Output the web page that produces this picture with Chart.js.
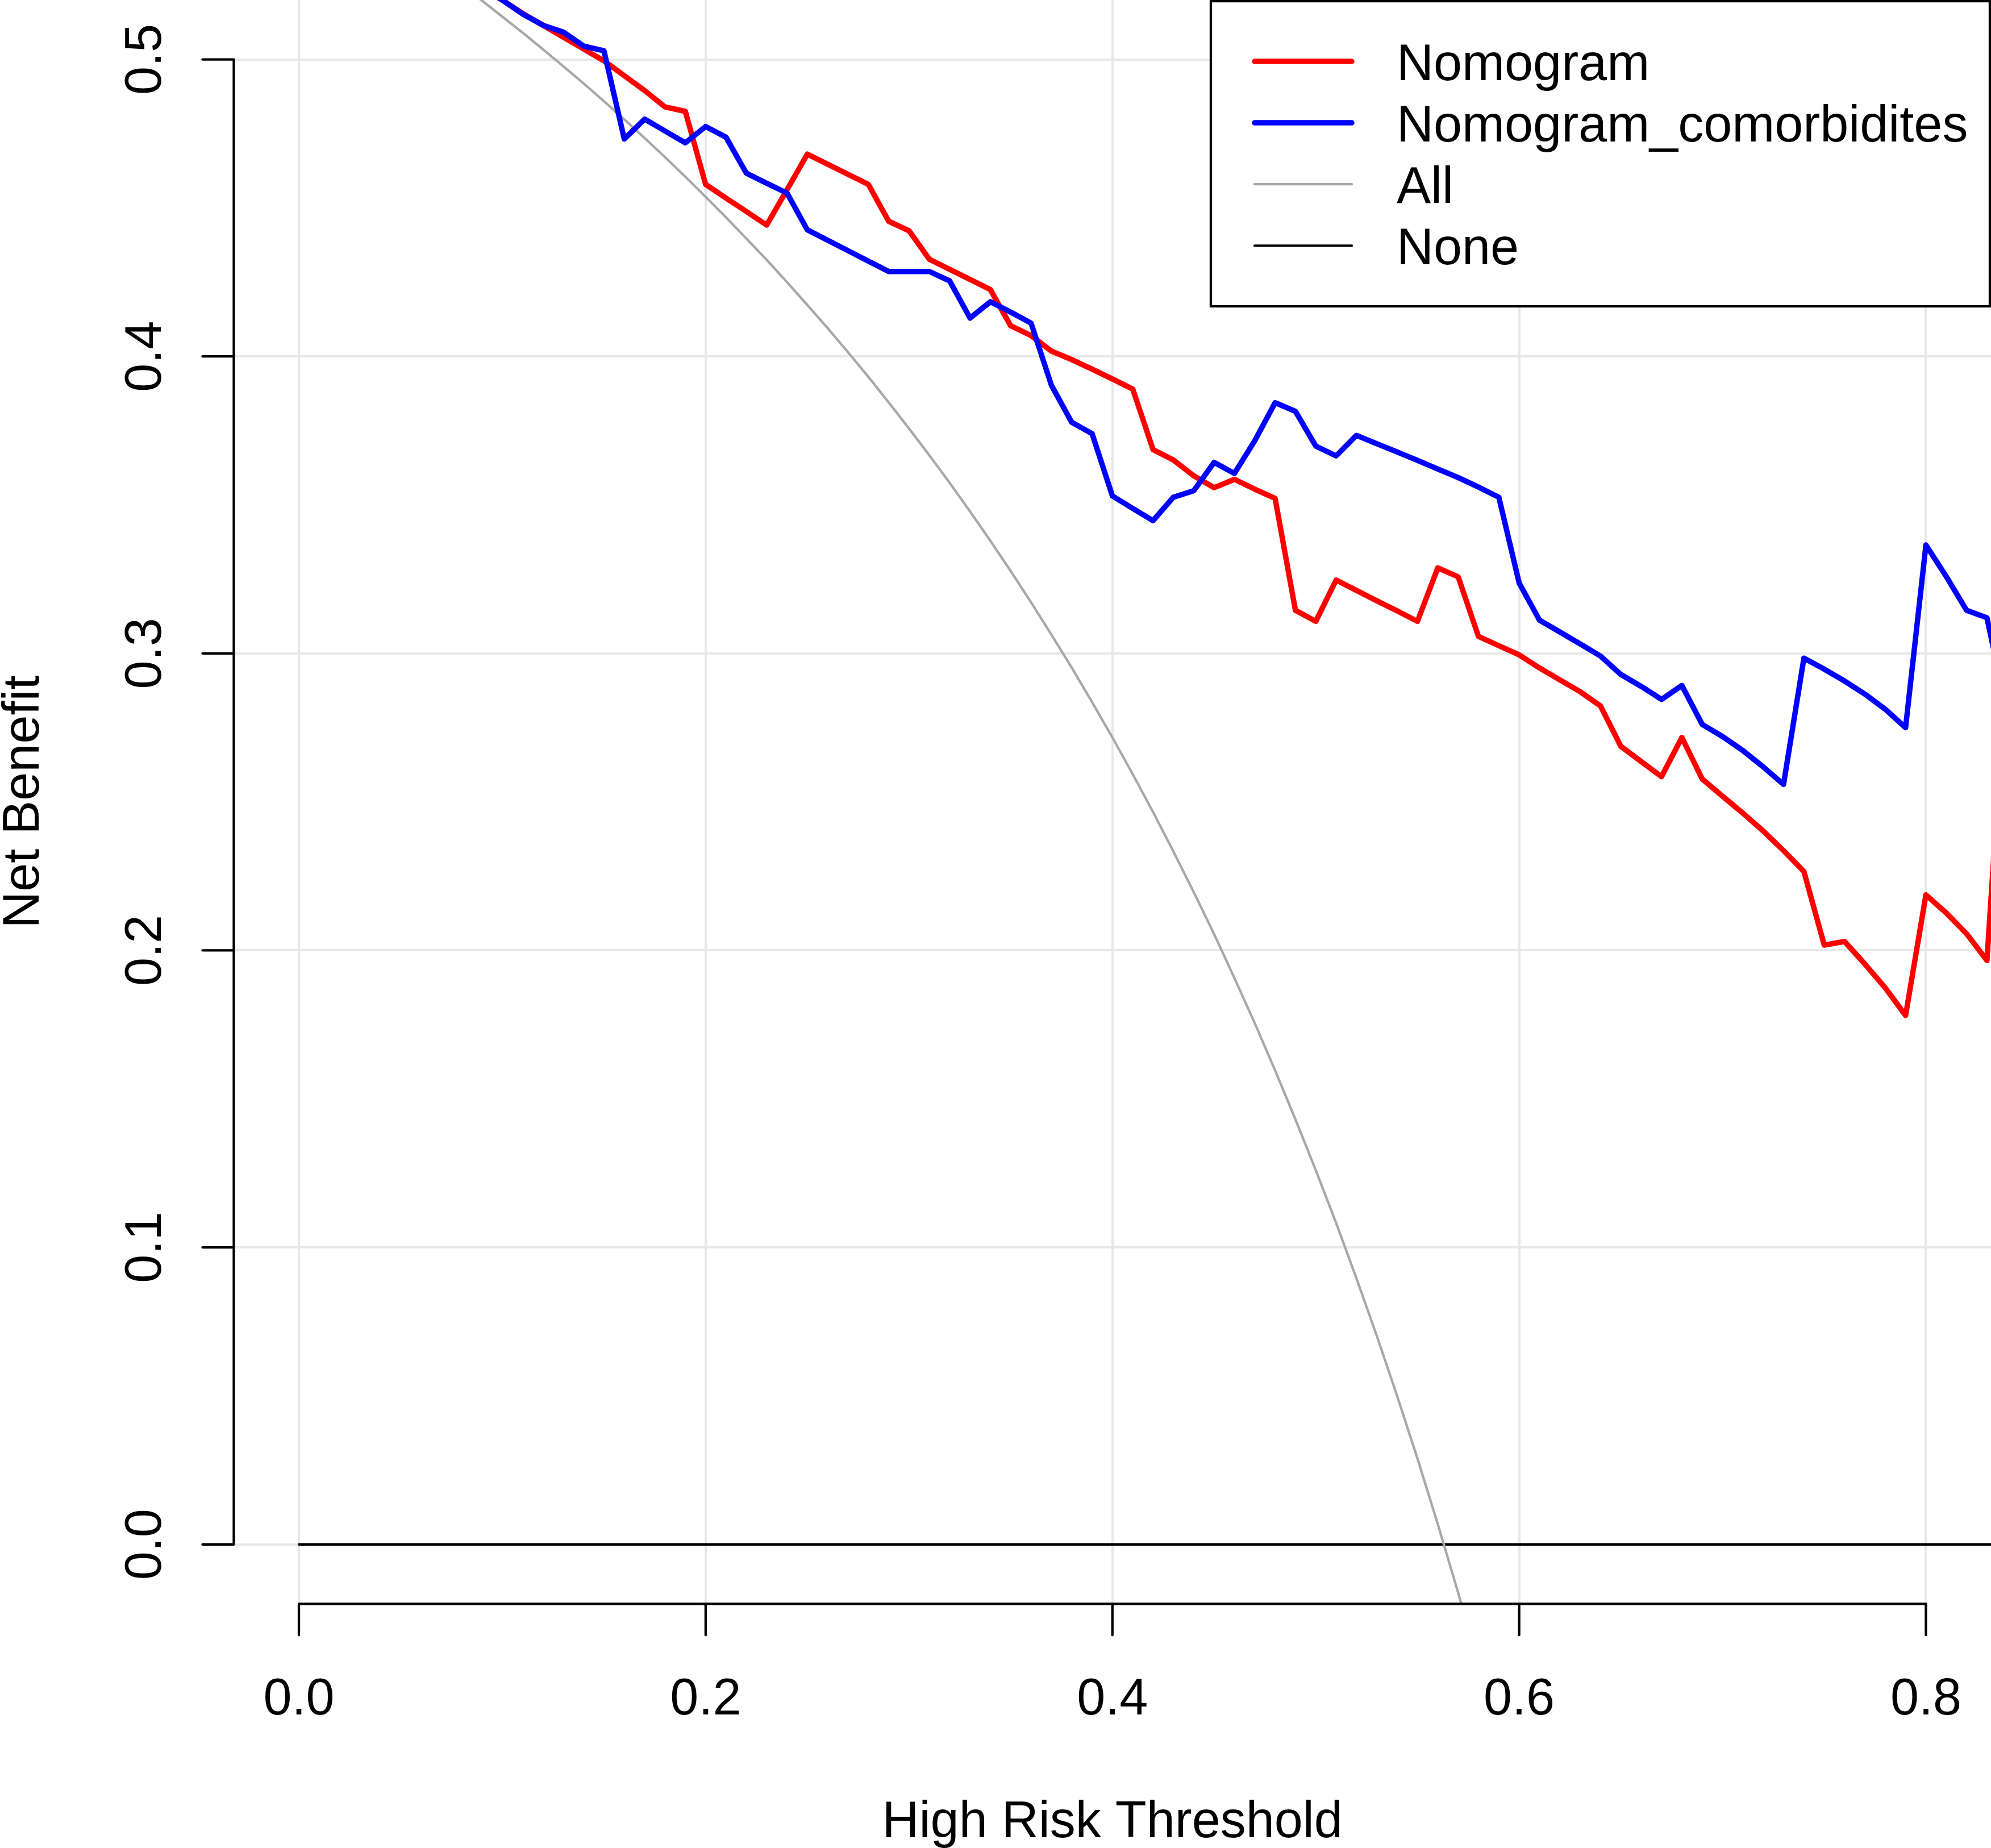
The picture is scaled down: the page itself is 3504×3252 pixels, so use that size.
<!DOCTYPE html>
<html>
<head>
<meta charset="utf-8">
<title>Decision curve</title>
<script src="https://cdn.jsdelivr.net/npm/chart.js@4.4.1/dist/chart.umd.min.js"></script>
<style>
  html, body { margin: 0; padding: 0; background: #fff; }
  canvas { display: block; }
</style>
</head>
<body>
<canvas id="dca" width="3504" height="3252"></canvas>
<script>
(function () {
    'use strict';

    // threshold probabilities for the two model curves
    const thresholds = [
        0.09, 0.10, 0.11, 0.12, 0.13, 0.14, 0.15, 0.16, 0.17, 0.18, 0.19,
        0.20, 0.21, 0.22, 0.23, 0.24, 0.25, 0.26, 0.27, 0.28, 0.29,
        0.30, 0.31, 0.32, 0.33, 0.34, 0.35, 0.36, 0.37, 0.38, 0.39,
        0.40, 0.41, 0.42, 0.43, 0.44, 0.45, 0.46, 0.47, 0.48, 0.49,
        0.50, 0.51, 0.52, 0.53, 0.54, 0.55, 0.56, 0.57, 0.58, 0.59,
        0.60, 0.61, 0.62, 0.63, 0.64, 0.65, 0.66, 0.67, 0.68, 0.69,
        0.70, 0.71, 0.72, 0.73, 0.74, 0.75, 0.76, 0.77, 0.78, 0.79,
        0.80, 0.81, 0.82, 0.83, 0.84
    ];

    const nomogram = [
        0.524, 0.520, 0.5155, 0.5115, 0.5075, 0.5035, 0.4995, 0.4945, 0.4895, 0.4840, 0.4825,
        0.4579, 0.4533, 0.4488, 0.4442, 0.4561, 0.4681, 0.4647, 0.4613, 0.4579, 0.4455,
        0.4423, 0.4327, 0.4293, 0.4259, 0.4225, 0.4103, 0.4070, 0.4018, 0.3989, 0.3957,
        0.3924, 0.3890, 0.3686, 0.3651, 0.3598, 0.3558, 0.3586, 0.3553, 0.3522, 0.3145,
        0.3108, 0.3247, 0.3212, 0.3177, 0.3143, 0.3108, 0.3288, 0.3258, 0.3057, 0.3026,
        0.2995, 0.2951, 0.2911, 0.2871, 0.2823, 0.2687, 0.2636, 0.2585, 0.2717, 0.2577,
        0.2519, 0.2462, 0.2402, 0.2336, 0.2266, 0.2018, 0.2030, 0.1954, 0.1874, 0.1781,
        0.2187, 0.2126, 0.2056, 0.1966, 0.300
    ];

    const nomogramComorb = [
        0.524, 0.520, 0.5153, 0.5115, 0.5092, 0.5045, 0.5029, 0.4732, 0.4799, 0.4759, 0.4719,
        0.4774, 0.4738, 0.4617, 0.4583, 0.4550, 0.4426, 0.4391, 0.4356, 0.4321, 0.4286,
        0.4286, 0.4286, 0.4254, 0.4129, 0.4184, 0.4149, 0.4112, 0.3903, 0.3778, 0.3740,
        0.3530, 0.3488, 0.3447, 0.3526, 0.3548, 0.3643, 0.3606, 0.3716, 0.3844, 0.3815,
        0.3698, 0.3665, 0.3734, 0.3706, 0.3678, 0.3650, 0.3621, 0.3592, 0.3560, 0.3526,
        0.3237, 0.3112, 0.3072, 0.3032, 0.2991, 0.2929, 0.2889, 0.2845, 0.2892, 0.2761,
        0.2720, 0.2673, 0.2618, 0.2559, 0.2984, 0.2947, 0.2907, 0.2863, 0.2812, 0.2750,
        0.3365, 0.3259, 0.3145, 0.3120, 0.280
    ];

    // treat-all curve
    const allThresholds = [
        0.08, 0.09, 0.10, 0.11, 0.12, 0.13, 0.14, 0.15, 0.16, 0.17, 0.18, 0.19,
        0.20, 0.21, 0.22, 0.23, 0.24, 0.25, 0.26, 0.27, 0.28, 0.29,
        0.30, 0.31, 0.32, 0.33, 0.34, 0.35, 0.36, 0.37, 0.38, 0.39,
        0.40, 0.41, 0.42, 0.43, 0.44, 0.45, 0.46, 0.47, 0.48, 0.49,
        0.50, 0.51, 0.52, 0.53, 0.54, 0.55, 0.56, 0.57, 0.58
    ];
    const allValues = [
        0.5250, 0.5198, 0.5144, 0.5090, 0.5034, 0.4977, 0.4919, 0.4859, 0.4798, 0.4735, 0.4671, 0.4605,
        0.4537, 0.4468, 0.4397, 0.4325, 0.4250, 0.4173, 0.4095, 0.4014, 0.3931, 0.3845,
        0.3757, 0.3667, 0.3574, 0.3478, 0.3379, 0.3277, 0.3172, 0.3063, 0.2952, 0.2836,
        0.2717, 0.2593, 0.2466, 0.2333, 0.2196, 0.2055, 0.1907, 0.1755, 0.1596, 0.1431,
        0.1260, 0.1082, 0.0896, 0.0702, 0.0500, 0.0289, 0.0068, -0.0163, -0.0405
    ];

    // treat-none curve
    const noneThresholds = [0, 0.84];
    const noneValues = [0, 0];

    const seriesNames = ['Nomogram', 'Nomogram_comorbidites', 'All', 'None'];
    const xTicks = [0, 0.2, 0.4, 0.6, 0.8];
    const yTicks = [0, 0.1, 0.2, 0.3, 0.4, 0.5];
    const xTitle = 'High Risk Threshold';
    const yTitle = 'Net Benefit';

    const FONT = '90px "Liberation Sans", Arial, Helvetica, sans-serif';
    const GRID = '#E8E8E8';

    const toPoints = (xs, ys) => xs.map((x, i) => ({ x: x, y: ys[i] }));

    // R style axes: line only over the tick range, outward ticks, rotated y labels
    const rAxes = {
        id: 'rAxes',
        afterDraw(chart) {
            const { ctx, chartArea } = chart;
            const xs = chart.scales.x;
            const ys = chart.scales.y;
            const tickLen = 55;

            ctx.save();
            ctx.strokeStyle = '#000';
            ctx.fillStyle = '#000';
            ctx.lineWidth = 4.3;
            ctx.lineCap = 'round';

            // y axis
            const yLo = ys.getPixelForValue(yTicks[0]);
            const yHi = ys.getPixelForValue(yTicks[yTicks.length - 1]);
            ctx.beginPath();
            ctx.moveTo(chartArea.left, yLo);
            ctx.lineTo(chartArea.left, yHi);
            yTicks.forEach(v => {
                const p = ys.getPixelForValue(v);
                ctx.moveTo(chartArea.left, p);
                ctx.lineTo(chartArea.left - tickLen, p);
            });
            ctx.stroke();

            // x axis
            const xLo = xs.getPixelForValue(xTicks[0]);
            const xHi = xs.getPixelForValue(xTicks[xTicks.length - 1]);
            ctx.beginPath();
            ctx.moveTo(xLo, chartArea.bottom);
            ctx.lineTo(xHi, chartArea.bottom);
            xTicks.forEach(v => {
                const p = xs.getPixelForValue(v);
                ctx.moveTo(p, chartArea.bottom);
                ctx.lineTo(p, chartArea.bottom + tickLen);
            });
            ctx.stroke();

            ctx.font = FONT;
            ctx.textAlign = 'center';
            ctx.textBaseline = 'alphabetic';

            // tick labels
            xTicks.forEach(v => {
                ctx.fillText(v.toFixed(1), xs.getPixelForValue(v), chartArea.bottom + 195);
            });
            yTicks.forEach(v => {
                ctx.save();
                ctx.translate(chartArea.left - 128.5, ys.getPixelForValue(v));
                ctx.rotate(-Math.PI / 2);
                ctx.fillText(v.toFixed(1), 0, 0);
                ctx.restore();
            });

            // axis titles
            ctx.fillText(xTitle, (chartArea.left + chartArea.right) / 2, chartArea.bottom + 411);
            ctx.save();
            ctx.translate(68, (chartArea.top + chartArea.bottom) / 2);
            ctx.rotate(-Math.PI / 2);
            ctx.fillText(yTitle, 0, 0);
            ctx.restore();

            ctx.restore();
        }
    };

    // boxed legend in the top right corner, as R's legend("topright")
    const rLegend = {
        id: 'rLegend',
        afterDatasetsDraw(chart) {
            const { ctx } = chart;
            const box = { left: 2131, top: 2, right: 3502, bottom: 539 };

            ctx.save();
            ctx.fillStyle = '#fff';
            ctx.fillRect(box.left, box.top, box.right - box.left, box.bottom - box.top);
            ctx.strokeStyle = '#000';
            ctx.lineWidth = 4.3;
            ctx.strokeRect(box.left, box.top, box.right - box.left, box.bottom - box.top);

            ctx.font = FONT;
            ctx.textAlign = 'left';
            ctx.textBaseline = 'alphabetic';
            ctx.lineCap = 'round';

            chart.data.datasets.forEach((ds, i) => {
                const rowY = box.top + 106 + i * 108.1;
                ctx.strokeStyle = ds.borderColor;
                ctx.lineWidth = ds.borderWidth;
                ctx.beginPath();
                ctx.moveTo(2208, rowY);
                ctx.lineTo(2379, rowY);
                ctx.stroke();
                ctx.fillStyle = '#000';
                ctx.fillText(ds.label, 2458, rowY + 33);
            });
            ctx.restore();
        }
    };

    const lineDefaults = {
        pointRadius: 0,
        pointHoverRadius: 0,
        tension: 0,
        fill: false,
        clip: 0,
        borderCapStyle: 'round',
        borderJoinStyle: 'round'
    };

    const ctx = document.getElementById('dca').getContext('2d');
    new Chart(ctx, {
        type: 'line',
        data: {
            datasets: [
                Object.assign({
                    label: seriesNames[0],
                    data: toPoints(thresholds, nomogram),
                    borderColor: '#FF0000',
                    borderWidth: 9.5,
                    order: 1
                }, lineDefaults),
                Object.assign({
                    label: seriesNames[1],
                    data: toPoints(thresholds, nomogramComorb),
                    borderColor: '#0000FF',
                    borderWidth: 9.5,
                    order: 0
                }, lineDefaults),
                Object.assign({
                    label: seriesNames[2],
                    data: toPoints(allThresholds, allValues),
                    borderColor: '#A8A8A8',
                    borderWidth: 4.3,
                    order: 2
                }, lineDefaults),
                Object.assign({
                    label: seriesNames[3],
                    data: toPoints(noneThresholds, noneValues),
                    borderColor: '#000000',
                    borderWidth: 4.3,
                    order: 3
                }, lineDefaults)
            ]
        },
        options: {
            responsive: false,
            devicePixelRatio: 1,
            animation: false,
            layout: {
                padding: { left: 411.5, top: 0, right: 0, bottom: 429.7 }
            },
            plugins: {
                legend: { display: false },
                tooltip: { enabled: false }
            },
            scales: {
                x: {
                    type: 'linear',
                    min: -0.032,
                    max: 0.832,
                    afterBuildTicks: axis => { axis.ticks = xTicks.map(v => ({ value: v })); },
                    ticks: { display: false },
                    grid: { color: GRID, lineWidth: 4, drawTicks: false },
                    border: { display: false }
                },
                y: {
                    type: 'linear',
                    min: -0.02,
                    max: 0.52,
                    afterBuildTicks: axis => { axis.ticks = yTicks.map(v => ({ value: v })); },
                    ticks: { display: false },
                    grid: { color: GRID, lineWidth: 4, drawTicks: false },
                    border: { display: false }
                }
            }
        },
        plugins: [rAxes, rLegend]
    });
})();
</script>
</body>
</html>
